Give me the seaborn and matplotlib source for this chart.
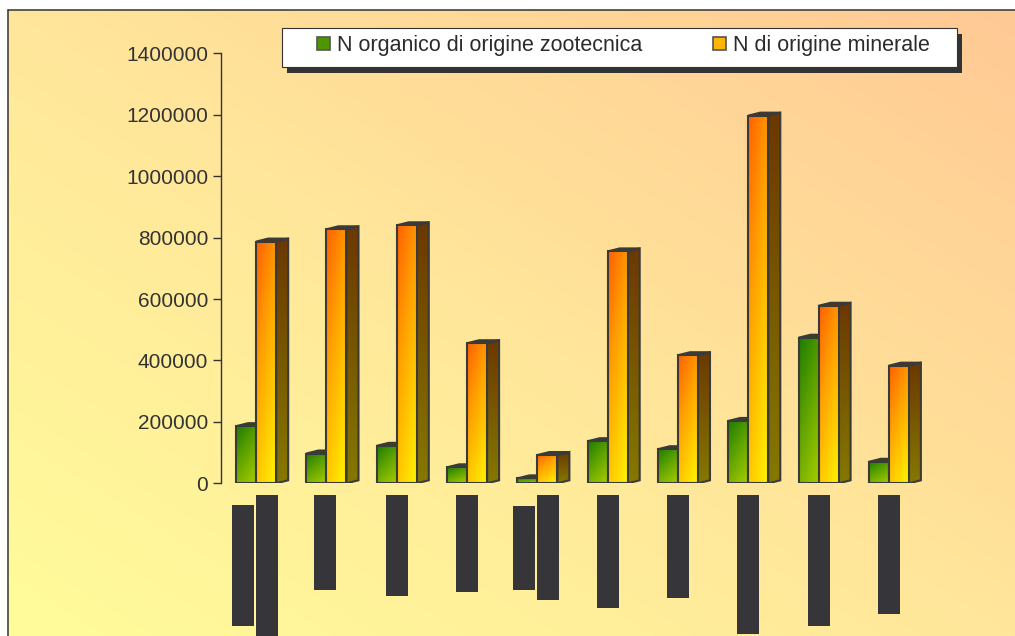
import numpy as np
import pandas as pd
import matplotlib
matplotlib.use('Agg')
import matplotlib.pyplot as plt
import seaborn as sns
from matplotlib.colors import LinearSegmentedColormap
from matplotlib.patches import Polygon, Rectangle, Patch
from matplotlib.lines import Line2D
from matplotlib.transforms import IdentityTransform

W, H = 1015, 636

# dati (le etichette delle categorie non sono leggibili nell'originale)
categorie = ['c1', 'c2', 'c3', 'c4', 'c5', 'c6', 'c7', 'c8', 'c9', 'c10']
serie = ['N organico di origine zootecnica', 'N di origine minerale']
n_organico = [186000, 97000, 122000, 52000, 16000, 137000, 111000, 203000, 474000, 70000]
n_minerale = [787000, 827000, 840000, 456000, 92000, 755000, 417000, 1197000, 578000, 383000]
tick_values = [0, 200000, 400000, 600000, 800000, 1000000, 1200000, 1400000]
tick_labels = ['0', '200000', '400000', '600000', '800000', '1000000', '1200000', '1400000']

# blocchi scuri sotto l'asse (etichette coperte): offset dal centro, inizio, fine (px)
label_blocks = [
    [(-13, 505, 626), (11, 495, 640)],
    [(-1, 495, 590)],
    [(0, 495, 596)],
    [(0, 495, 592)],
    [(-13, 506, 590), (11, 495, 600)],
    [(0, 495, 608)],
    [(0, 495, 598)],
    [(0, 495, 634)],
    [(0, 495, 626)],
    [(0, 495, 614)],
]

EDGE = '#3a3a3a'
TXT = '#333333'

sns.set_theme(style='white')
plt.rcParams['font.family'] = ['Liberation Sans', 'DejaVu Sans']

fig = plt.figure(figsize=(W / 100, H / 100), dpi=100, facecolor='white')

# sfondo sfumato
bg = fig.add_axes([8 / W, 0, 1 - 8 / W, 1 - 10 / H], zorder=-10)
gx, gy = np.meshgrid(np.linspace(0, 1, 300), np.linspace(1, 0, 200))
bg_cmap = LinearSegmentedColormap.from_list('bg', ['#FFFC9B', '#FFE69A', '#FFC995'])
bg.imshow((gx + gy) / 2, cmap=bg_cmap, aspect='auto', interpolation='bilinear',
          extent=(0, 1, 0, 1), vmin=0, vmax=1)
bg.set_axis_off()
fig.add_artist(Line2D([7.5 / W, 7.5 / W], [0, 1 - 9.5 / H], color=TXT, lw=1.1))
fig.add_artist(Line2D([7.5 / W, 1], [1 - 9.5 / H, 1 - 9.5 / H], color=TXT, lw=1.1))

ax = fig.add_axes([221 / W, 1 - 483.3 / H, 703 / W, 430 / H])
ax.patch.set_alpha(0)

df = pd.DataFrame({
    'categoria': categorie * 2,
    'serie': [serie[0]] * len(categorie) + [serie[1]] * len(categorie),
    'N': n_organico + n_minerale,
})
sns.barplot(data=df, x='categoria', y='N', hue='serie', palette=['#5AA000', '#FFB000'],
            width=0.57, gap=0, saturation=1, edgecolor=EDGE, linewidth=1.5,
            legend=False, ax=ax)
ax.set_xlim(-0.5, 9.5)
ax.set_ylim(0, 1400000)

# profondita' 3D in pixel
dx = 12 / (703 / 10)
dy = 3 * 1400000 / 430

front_cmaps = [
    LinearSegmentedColormap.from_list('gf', [(0, '#1C7C00'), (0.45, '#5EA200'), (1, '#A8CE00')]),
    LinearSegmentedColormap.from_list('of', [(0, '#FF6000'), (0.4, '#FFA200'), (1, '#FFF600')]),
]
side_cmaps = [
    LinearSegmentedColormap.from_list('gs', ['#2E4A00', '#4E6A00']),
    LinearSegmentedColormap.from_list('os', ['#6C3800', '#857800']),
]
top_colors = ['#2f4a10', '#5a3510']

u, r = np.meshgrid(np.linspace(0, 1, 64), np.linspace(0, 1, 64))
front_grad = 0.35 * u + 0.65 * r
side_grad = np.linspace(0, 1, 64).reshape(-1, 1)

for k, cont in enumerate(ax.containers):
    z = 2 + 2 * k
    for bar in cont:
        x0, w, h = bar.get_x(), bar.get_width(), bar.get_height()
        x1 = x0 + w
        side = Polygon([(x1, 0), (x1 + dx, dy), (x1 + dx, h + dy), (x1, h)],
                       facecolor='none', edgecolor=EDGE, lw=1.5, zorder=z + 0.3)
        top = Polygon([(x0, h), (x0 + dx, h + dy), (x1 + dx, h + dy), (x1, h)],
                      facecolor=top_colors[k], edgecolor=EDGE, lw=1.5, zorder=z + 0.3)
        ax.add_patch(side)
        ax.add_patch(top)
        im = ax.imshow(side_grad, extent=(x1, x1 + dx, 0, h + dy), cmap=side_cmaps[k],
                       aspect='auto', interpolation='bilinear', vmin=0, vmax=1, zorder=z + 0.1)
        im.set_clip_path(side)
        bar.set_facecolor('none')
        bar.set_zorder(z + 1.2)
        ax.imshow(front_grad, extent=(x0, x1, 0, h), cmap=front_cmaps[k], aspect='auto',
                  interpolation='bilinear', vmin=0, vmax=1, zorder=z + 1.0)

ax.set_xlim(-0.5, 9.5)
ax.set_ylim(0, 1400000)
ax.set_aspect('auto')
ax.set_xticks([])
ax.set_yticks(tick_values, labels=tick_labels)
ax.set_xlabel('')
ax.set_ylabel('')
ax.tick_params(axis='y', left=True, length=5.8, width=1, color=TXT, pad=3.5,
               labelsize=15, labelcolor=TXT)
for s in ['top', 'right', 'bottom']:
    ax.spines[s].set_visible(False)
ax.spines['left'].set_color(TXT)
ax.spines['left'].set_linewidth(1)

# etichette di categoria coperte
for i, blocks in enumerate(label_blocks):
    cx = ax.transData.transform((i, 0))[0]
    for off, y_top, y_bot in blocks:
        fig.add_artist(Rectangle((cx + off - 11, H - y_bot), 22, y_bot - y_top,
                                 transform=IdentityTransform(), facecolor='#363539',
                                 edgecolor='none', zorder=1))

# riquadro legenda con ombra
fig.add_artist(Rectangle((287, H - 73), 675, 39, transform=IdentityTransform(),
                         facecolor='#333333', edgecolor='none', zorder=8))
fig.add_artist(Rectangle((282, H - 67), 675, 39, transform=IdentityTransform(),
                         facecolor='white', edgecolor=TXT, lw=0.8, zorder=9))
handles = [Patch(facecolor='#4E9600', edgecolor='#555555', lw=1.2),
           Patch(facecolor='#FFB400', edgecolor='#555555', lw=1.2)]
leg = fig.legend(handles=handles, labels=serie, loc='center left',
                 bbox_to_anchor=(317 / W, 1 - 45.5 / H), bbox_transform=fig.transFigure,
                 ncol=2, frameon=False, fontsize=15.5, labelcolor='#2b2b2b',
                 handlelength=0.6, handleheight=0.6, handletextpad=0.35,
                 columnspacing=3.25, borderpad=0, borderaxespad=0)
leg.set_zorder(10)

plt.savefig('out.png', dpi=100)
plt.close()
